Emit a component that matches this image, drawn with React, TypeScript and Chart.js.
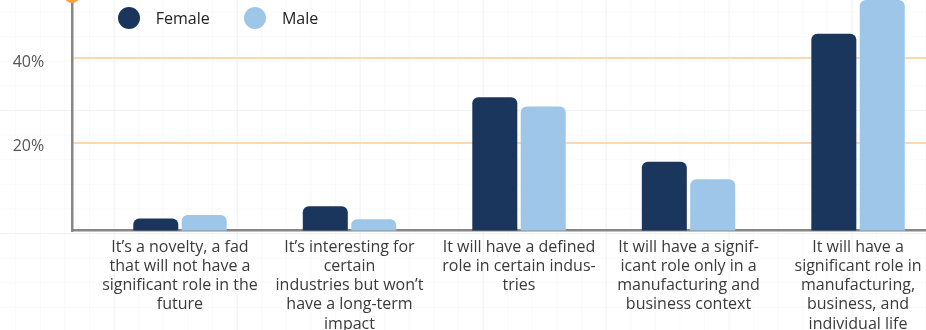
import React, { useEffect, useRef } from 'react';
import { Chart, registerables } from 'chart.js';

Chart.register(...registerables);

// ---- Data ----
const categoryLabels: string[][] = [
  ['It’s a novelty, a fad', 'that will not have a', 'significant role in the', 'future'],
  ['It’s interesting for', 'certain', 'industries but won’t', 'have a long-term', 'impact'],
  ['It will have a defined', 'role in certain indus-', 'tries'],
  ['It will have a signif-', 'icant role only in a', 'manufacturing and', 'business context'],
  ['It will have a', 'significant role in', 'manufacturing,', 'business, and', 'individual life'],
];
const femaleValues = [2.1, 5.0, 30.8, 15.5, 45.8];
const maleValues = [2.9, 1.9, 28.6, 11.4, 53.8];
const seriesNames = ['Female', 'Male'];
const seriesColors = ['#1b365d', '#9dc6e8'];
const yTickValues = [20, 40];
const yMin = -0.8;
const yMax = 55;
const xMin = -0.637;
const xMax = 4.401;

const FONT = '"Open Sans", "DejaVu Sans", sans-serif';

const axisDotPlugin = {
  id: 'axisDot',
  afterDraw(chart: any) {
    const { ctx, chartArea } = chart;
    ctx.save();
    ctx.fillStyle = '#f8a23f';
    ctx.beginPath();
    ctx.arc(chartArea.left, chartArea.top, 8, 0, Math.PI * 2);
    ctx.fill();
    ctx.restore();
  },
};

export default function App() {
  const canvasRef = useRef<HTMLCanvasElement | null>(null);

  useEffect(() => {
    if (!canvasRef.current) return;
    Chart.defaults.font.family = FONT;
    const seriesValues = [femaleValues, maleValues];
    const chart = new Chart(canvasRef.current, {
      type: 'bar',
      data: {
        datasets: seriesValues.map((vals, si) => ({
          label: seriesNames[si],
          data: vals.map((v, i) => ({ x: i, y: v })),
          backgroundColor: seriesColors[si],
          base: yMin,
          borderRadius: 6,
          borderSkipped: 'start',
          categoryPercentage: 0.571,
          barPercentage: 0.93,
        })),
      },
      options: {
        animation: false,
        responsive: true,
        maintainAspectRatio: false,
        layout: { padding: { top: 15, left: 12.7, right: 0, bottom: 0 } },
        plugins: {
          legend: { display: false },
          tooltip: { enabled: false },
        },
        scales: {
          x: {
            type: 'linear',
            min: xMin,
            max: xMax,
            offset: false,
            grid: { display: true, color: 'transparent', drawTicks: false },
            border: { display: true, color: '#868686', width: 2.5 },
            afterBuildTicks: (s: any) => {
              s.ticks = categoryLabels.map((_, i) => ({ value: i }));
            },
            afterFit: (s: any) => {
              s.height = 119.3;
              s.paddingLeft = 0;
              s.paddingRight = 0;
            },
            ticks: {
              autoSkip: false,
              maxRotation: 0,
              minRotation: 0,
              padding: 7,
              color: '#3a3a3a',
              font: { size: 16, lineHeight: 1.2 },
              callback: (v: any) => categoryLabels[Math.round(Number(v))] ?? '',
            },
          },
          y: {
            type: 'linear',
            min: yMin,
            max: yMax,
            afterBuildTicks: (s: any) => {
              s.ticks = yTickValues.map((v) => ({ value: v }));
            },
            afterFit: (s: any) => {
              s.width = 72 - 12.7;
              s.paddingTop = 0;
              s.paddingBottom = 0;
            },
            grid: { color: '#fdd8ae', lineWidth: 2, drawTicks: false },
            border: { display: true, color: '#868686', width: 2.5 },
            ticks: {
              padding: 0,
              crossAlign: 'far',
              labelOffset: 4,
              color: '#555555',
              font: { size: 16 },
              callback: (v: any) => `${v}%`,
            },
          },
        },
      } as any,
      plugins: [axisDotPlugin],
    } as any);
    return () => chart.destroy();
  }, []);

  const gridBg = {
    backgroundColor: '#ffffff',
    backgroundImage: [
      'linear-gradient(to right, rgba(0,0,0,0.035) 1px, transparent 1px)',
      'linear-gradient(to bottom, rgba(0,0,0,0.035) 1px, transparent 1px)',
      'linear-gradient(to right, rgba(0,0,0,0.018) 1px, transparent 1px)',
      'linear-gradient(to bottom, rgba(0,0,0,0.018) 1px, transparent 1px)',
    ].join(', '),
    backgroundSize: '123px 123px, 123px 123px, 24.6px 24.6px, 24.6px 24.6px',
    backgroundPosition: '113.7px 0px, 0px 110px, 15.3px 0px, 0px 11.6px',
  } as React.CSSProperties;

  return (
    <div
      style={{
        position: 'absolute',
        left: 0,
        top: 0,
        width: 926,
        height: 330,
        overflow: 'hidden',
        ...gridBg,
      }}
    >
      <div style={{ position: 'absolute', left: 0, top: -20, width: 926, height: 370 }}>
        <canvas ref={canvasRef} />
      </div>
      <div
        style={{
          position: 'absolute',
          left: 118,
          top: 7,
          display: 'flex',
          alignItems: 'center',
          fontFamily: FONT,
          fontSize: 16,
          color: '#222222',
        }}
      >
        {seriesNames.map((name, i) => (
          <div
            key={name}
            style={{ display: 'flex', alignItems: 'center', marginRight: i === 0 ? 34.6 : 0 }}
          >
            <span
              style={{
                display: 'inline-block',
                width: 22,
                height: 22,
                borderRadius: '50%',
                background: seriesColors[i],
                marginRight: 15.7,
              }}
            />
            <span>{name}</span>
          </div>
        ))}
      </div>
    </div>
  );
}
